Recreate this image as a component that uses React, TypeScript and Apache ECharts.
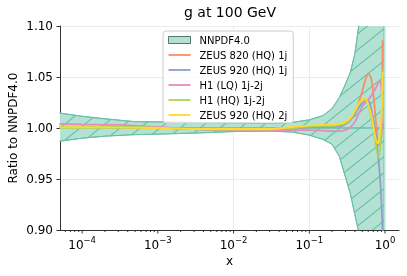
import React, { useEffect, useRef } from "react";
import * as echarts from "echarts";

const FONT = "DejaVu Sans";
const titleText = "g at 100 GeV";
const yName = "Ratio to NNPDF4.0";
const xName = "x";

const seriesNames = [
  "ZEUS 820 (HQ) 1j",
  "ZEUS 920 (HQ) 1j",
  "H1 (LQ) 1j-2j",
  "H1 (HQ) 1j-2j",
  "ZEUS 920 (HQ) 2j",
];
const bandName = "NNPDF4.0";
const colors = ["#fc8d62", "#8da0cb", "#e78ac3", "#a6d854", "#ffd92f"];
const teal = "#66c2a5";

// NNPDF4.0 uncertainty band
const bandX = [5e-5, 1e-4, 2e-4, 5e-4, 1e-3, 3e-3, 1e-2, 0.03, 0.06, 0.1, 0.15, 0.2, 0.25, 0.3, 0.35, 0.4, 0.45, 0.5, 0.6, 0.7, 0.8, 0.9, 0.97];
const bandUp = [1.0147, 1.0115, 1.009, 1.0062, 1.006, 1.0055, 1.005, 1.0045, 1.0055, 1.008, 1.012, 1.019, 1.03, 1.043, 1.055, 1.073, 1.1, 1.15, 1.3, 1.5, 1.8, 2.2, 2.5];
const bandLo = [0.987, 0.99, 0.992, 0.9935, 0.994, 0.995, 0.9965, 0.997, 0.996, 0.993, 0.989, 0.984, 0.972, 0.952, 0.935, 0.915, 0.898, 0.85, 0.7, 0.5, 0.2, -0.2, -0.5];

// dataset ratios
const xs = [5e-5, 1e-4, 3e-4, 1e-3, 3e-3, 1e-2, 3e-2, 0.06, 0.1, 0.15, 0.2, 0.25, 0.3, 0.35, 0.4, 0.45, 0.5, 0.55, 0.6, 0.65, 0.7, 0.75, 0.8, 0.83, 0.87, 0.9, 0.93];
const zeus820_1j = [1.0012, 1.0012, 1.001, 1.0003, 0.999, 0.9985, 0.9985, 0.9995, 1.001, 1.0015, 1.0015, 1.002, 1.004, 1.008, 1.016, 1.025, 1.036, 1.047, 1.053, 1.05, 1.034, 1.01, 0.988, 0.983, 0.984, 0.995, 1.086];
const zeus920_1j = [1.0012, 1.0012, 1.001, 1.0003, 0.999, 0.9985, 0.9985, 0.9995, 1.001, 1.0012, 1.0012, 1.002, 1.004, 1.008, 1.014, 1.02, 1.024, 1.026, 1.027, 1.02, 1.008, 0.996, 0.977, 0.965, 0.945, 0.925, 0.897];
const h1lq = [1.004, 1.0035, 1.003, 1.001, 0.999, 0.998, 0.9975, 0.998, 0.998, 0.9975, 0.997, 0.997, 0.998, 1.001, 1.006, 1.014, 1.021, 1.025, 1.028, 1.031, 1.035, 1.039, 1.043, 1.045, 1.046, 1.035, 1.0];
const h1hq = [1.0012, 1.0012, 1.001, 1.0003, 0.999, 0.9985, 0.9985, 1.0, 1.0015, 1.002, 1.002, 1.003, 1.005, 1.009, 1.016, 1.023, 1.027, 1.028, 1.021, 1.012, 0.999, 0.985, 0.973, 0.972, 0.985, 1.01, 1.057];
const zeus920_2j = [1.0005, 1.0005, 1.0004, 1.0, 0.999, 0.999, 0.999, 1.001, 1.0025, 1.003, 1.003, 1.004, 1.006, 1.01, 1.017, 1.024, 1.028, 1.029, 1.022, 1.015, 1.002, 0.99, 0.985, 0.988, 1.0, 1.012, 1.055];
const lineValues = [zeus820_1j, zeus920_1j, h1lq, h1hq, zeus920_2j];

// axes
const xMin = 5.1e-5;
const xMax = 1.53;
const xMajorTicks = [1e-4, 1e-3, 1e-2, 1e-1, 1];
const xMinorMultipliers = [2, 3, 4, 5, 6, 7, 8, 9];
const xMinorDecades = [1e-5, 1e-4, 1e-3, 1e-2, 1e-1];
const yMin = 0.9;
const yMax = 1.1;
const yStep = 0.05;

function makeHatch(): HTMLCanvasElement {
  const w = 20;
  const h = 16;
  const c = document.createElement("canvas");
  c.width = w;
  c.height = h;
  const ctx = c.getContext("2d")!;
  ctx.fillStyle = "#b3e2d4";
  ctx.fillRect(0, 0, w, h);
  ctx.strokeStyle = teal;
  ctx.lineWidth = 1.1;
  ctx.beginPath();
  const k = h / w;
  ctx.moveTo(-2, h + 2 * k);
  ctx.lineTo(w + 2, -2 * k);
  ctx.moveTo(-4, 4 * k);
  ctx.lineTo(4, -4 * k);
  ctx.moveTo(w - 4, h + 4 * k);
  ctx.lineTo(w + 4, h - 4 * k);
  ctx.stroke();
  return c;
}

export default function App() {
  const ref = useRef<HTMLDivElement>(null);
  useEffect(() => {
    const chart = echarts.init(ref.current!, null, { renderer: "svg" });
    const hatch = makeHatch();

    const tickData: number[][] = [];
    xMajorTicks.forEach((v) => tickData.push([v, yMin, 3.5]));
    xMinorDecades.forEach((d) =>
      xMinorMultipliers.forEach((m) => {
        const v = d * m;
        if (v > xMin && v < xMax) tickData.push([v, yMin, 2]);
      })
    );

    const supers = (v: number) => {
      const e = Math.round(Math.log10(v));
      const es = e < 0 ? "\u2212" + Math.abs(e) : String(e);
      return "{b|10}{s|" + es + "}";
    };

    const lineIcon = "path://M0,0H22V1.8H0Z";

    const option: any = {
      animation: false,
      title: {
        text: titleText,
        left: 230,
        textAlign: "center",
        top: 5,
        padding: 0,
        textStyle: { fontFamily: FONT, fontSize: 14, fontWeight: "normal", color: "#000" },
      },
      grid: { left: 60, right: 8, top: 26, bottom: 46, containLabel: false, outerBoundsMode: "none" },
      legend: {
        orient: "vertical",
        left: 163,
        top: 31,
        padding: [4, 6, 3, 5],
        itemGap: 5,
        itemWidth: 22,
        itemHeight: 7,
        symbolKeepAspect: true,
        backgroundColor: "rgba(255,255,255,0.8)",
        borderColor: "#cccccc",
        borderWidth: 1,
        borderRadius: 3,
        textStyle: { fontFamily: FONT, fontSize: 10, color: "#000", padding: [0, 0, 0, 4] },
        data: [
          { name: bandName, icon: "rect", itemStyle: { color: "#b3e2d4", borderColor: "#557766", borderWidth: 1 } },
          ...seriesNames.map((n) => ({ name: n, icon: lineIcon })),
        ],
      },
      xAxis: {
        type: "log",
        logBase: 10,
        min: xMin,
        max: xMax,
        axisLine: { show: true, onZero: false, lineStyle: { color: "#333", width: 1 } },
        axisTick: { show: false },
        splitLine: { show: false },
        minorTick: { show: false },
        axisLabel: {
          showMinLabel: false,
          showMaxLabel: false,
          margin: 5,
          formatter: supers,
          rich: {
            b: { fontFamily: FONT, fontSize: 12, color: "#000" },
            s: { fontFamily: FONT, fontSize: 8.5, color: "#000", padding: [0, 0, 10, 0] },
          },
        },
        name: xName,
        nameLocation: "middle",
        nameGap: 25,
        nameMoveOverlap: false,
        nameTextStyle: { fontFamily: FONT, fontSize: 12, color: "#000" },
      },
      yAxis: {
        type: "value",
        min: yMin,
        max: yMax,
        interval: yStep,
        axisLine: { show: true, lineStyle: { color: "#333", width: 1 } },
        axisTick: { show: true, length: 3.5, lineStyle: { color: "#333" } },
        axisLabel: {
          formatter: (v: number) => v.toFixed(2),
          fontFamily: FONT,
          fontSize: 12,
          color: "#000",
          margin: 7,
        },
        splitLine: { show: true, lineStyle: { color: "#ebebeb", width: 1 } },
        name: yName,
        nameLocation: "middle",
        nameGap: 41,
        nameMoveOverlap: false,
        nameTextStyle: { fontFamily: FONT, fontSize: 12, color: "#000" },
      },
      series: [
        {
          name: "gridlines",
          type: "line",
          z: 1,
          data: [[1e-3, 1.0]],
          symbol: "none",
          lineStyle: { opacity: 0 },
          silent: true,
          markLine: {
            z: 1,
            silent: true,
            symbol: ["none", "none"],
            label: { show: false },
            lineStyle: { color: "#ebebeb", type: "solid", width: 1 },
            emphasis: { disabled: true },
            data: xMajorTicks.map((v) => ({ xAxis: v })),
          },
        },
        {
          name: bandName,
          type: "custom",
          z: 2,
          clip: true,
          silent: true,
          encode: { x: 0, y: 1 },
          data: bandX.map((x, i) => [x, bandLo[i], bandUp[i]]),
          itemStyle: { color: "#b3e2d4" },
          renderItem: (params: any, api: any) => {
            if (params.dataIndex !== 0) return null;
            const pts: number[][] = [];
            for (let i = 0; i < bandX.length; i++) pts.push(api.coord([bandX[i], bandUp[i]]));
            for (let i = bandX.length - 1; i >= 0; i--) pts.push(api.coord([bandX[i], bandLo[i]]));
            return {
              type: "polygon",
              shape: { points: pts },
              style: { fill: { image: hatch, repeat: "repeat" }, stroke: teal, lineWidth: 1 },
            };
          },
        },
        {
          name: "band-upper",
          type: "line",
          z: 2,
          symbol: "none",
          data: bandX.map((x, i) => [x, bandUp[i]]),
          lineStyle: { color: teal, width: 1 },
          silent: true,
        },
        {
          name: "band-lower",
          type: "line",
          z: 2,
          symbol: "none",
          data: bandX.map((x, i) => [x, bandLo[i]]),
          lineStyle: { color: teal, width: 1 },
          silent: true,
        },
        {
          name: "central",
          type: "line",
          z: 3,
          symbol: "none",
          data: [[xMin, 1.0], [0.97, 1.0]],
          lineStyle: { color: teal, width: 1.6 },
          silent: true,
        },
        ...seriesNames.map((n, k) => ({
          name: n,
          type: "line",
          z: 4,
          symbol: "none",
          smooth: 0.3,
          data: xs.map((x, i) => [x, lineValues[k][i]]),
          lineStyle: { color: colors[k], width: 1.8 },
          itemStyle: { color: colors[k] },
        })),
        {
          name: "xticks",
          type: "custom",
          clip: false,
          silent: true,
          z: 10,
          encode: { x: 0, y: 1 },
          data: tickData,
          renderItem: (params: any, api: any) => {
            const p = api.coord([api.value(0), api.value(1)]);
            const len = api.value(2);
            return {
              type: "line",
              shape: { x1: p[0], y1: p[1], x2: p[0], y2: p[1] + len },
              style: { stroke: "#333", lineWidth: 1 },
            };
          },
        },
      ],
    };
    chart.setOption(option);
    return () => chart.dispose();
  }, []);
  return <div ref={ref} style={{ position: "fixed", left: 0, top: 0, width: 407, height: 276 }} />;
}
